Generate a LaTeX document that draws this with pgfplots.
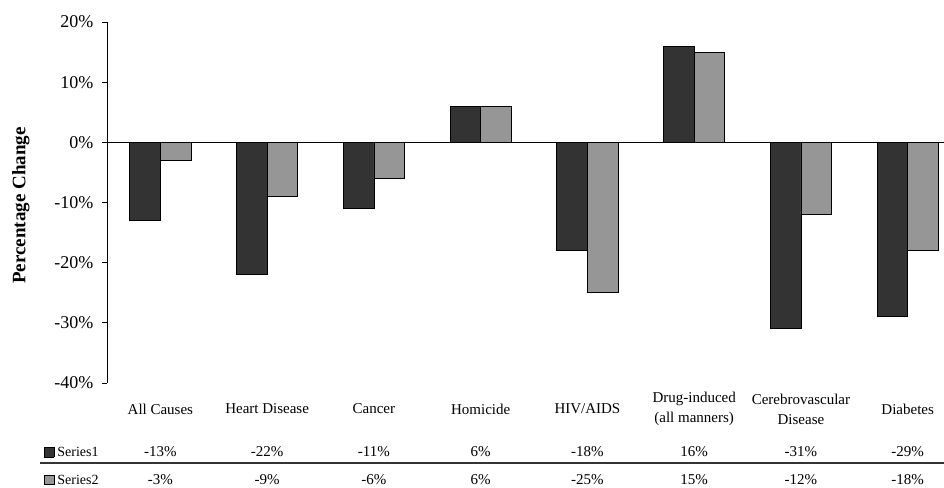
\documentclass[border=0pt]{standalone}
\usepackage{pgfplots}
\pgfplotsset{compat=1.18}
\usepackage{fontspec}
\setmainfont{Liberation Serif}
\definecolor{sone}{HTML}{333333}
\definecolor{stwo}{HTML}{969696}
\newcommand{\keybox}[1]{{\setlength{\fboxsep}{0pt}\setlength{\fboxrule}{0.6pt}\fcolorbox{black}{#1}{\rule{0pt}{9pt}\rule{9pt}{0pt}}}}
\begin{document}
\begin{tikzpicture}[x=1pt,y=1pt]
\useasboundingbox (0,0) rectangle (944,487);
\begin{axis}[
  at={(107pt,104pt)}, anchor=south west,
  scale only axis, width=837pt, height=361pt,
  xmin=-0.5, xmax=7.34, ymin=-40, ymax=20,
  clip=false,
  ybar=0pt, bar width=0.286,
  axis y line*=left, axis x line*=bottom,
  x axis line style={draw=none},
  y axis line style={black, line width=0.8pt},
  ytick={-40,-30,...,20},
  yticklabel={\pgfmathprintnumber{\tick}\%},
  /pgf/number format/assume math mode=true,
  tick align=outside, major tick length=5pt,
  ytick style={black, line width=0.8pt},
  xtick={0,...,7}, xtick style={draw=none},
  xticklabels={All Causes, Heart Disease, Cancer, Homicide, HIV/AIDS, {Drug-induced\\(all manners)}, {Cerebrovascular\\Disease}, Diabetes},
  xticklabel style={font=\fontsize{15}{20}\selectfont, align=center, anchor=center, yshift=-21pt},
  yticklabel style={font=\fontsize{18}{20}\selectfont, xshift=-5pt},
  every axis y label/.style={at={(rel axis cs:0,0.5)}, xshift=-86pt, yshift=-3pt, rotate=90, anchor=center, font=\fontsize{19}{22}\selectfont\bfseries},
  ylabel={Percentage Change},
]
\addplot[fill=sone, draw=black, line width=0.8pt] coordinates {(0,-13) (1,-22) (2,-11) (3,6) (4,-18) (5,16) (6,-31) (7,-29)};
\addplot[fill=stwo, draw=black, line width=0.8pt] coordinates {(0,-3) (1,-9) (2,-6) (3,6) (4,-25) (5,15) (6,-12) (7,-18)};
\draw[black, line width=1pt] (axis cs:-0.5,0) -- (axis cs:7.34,0);
\begin{scope}[every node/.style={font=\fontsize{15}{16}\selectfont, anchor=center, inner sep=0pt}]
\node at (axis cs:0,-40) [yshift=-69pt] {-13\%};
\node at (axis cs:1,-40) [yshift=-69pt] {-22\%};
\node at (axis cs:2,-40) [yshift=-69pt] {-11\%};
\node at (axis cs:3,-40) [yshift=-69pt] {6\%};
\node at (axis cs:4,-40) [yshift=-69pt] {-18\%};
\node at (axis cs:5,-40) [yshift=-69pt] {16\%};
\node at (axis cs:6,-40) [yshift=-69pt] {-31\%};
\node at (axis cs:7,-40) [yshift=-69pt] {-29\%};
\node at (axis cs:0,-40) [yshift=-97pt] {-3\%};
\node at (axis cs:1,-40) [yshift=-97pt] {-9\%};
\node at (axis cs:2,-40) [yshift=-97pt] {-6\%};
\node at (axis cs:3,-40) [yshift=-97pt] {6\%};
\node at (axis cs:4,-40) [yshift=-97pt] {-25\%};
\node at (axis cs:5,-40) [yshift=-97pt] {15\%};
\node at (axis cs:6,-40) [yshift=-97pt] {-12\%};
\node at (axis cs:7,-40) [yshift=-97pt] {-18\%};
\end{scope}
\end{axis}
\begin{scope}[every node/.style={font=\fontsize{14}{16}\selectfont, anchor=west, inner sep=0pt}]
\node at (44,35) {\keybox{sone}\hspace{3pt}Series1};
\node at (44,7) {\keybox{stwo}\hspace{3pt}Series2};
\end{scope}
\draw[black!80, line width=1.2pt] (40,24) -- (944,24);
\end{tikzpicture}
\end{document}
